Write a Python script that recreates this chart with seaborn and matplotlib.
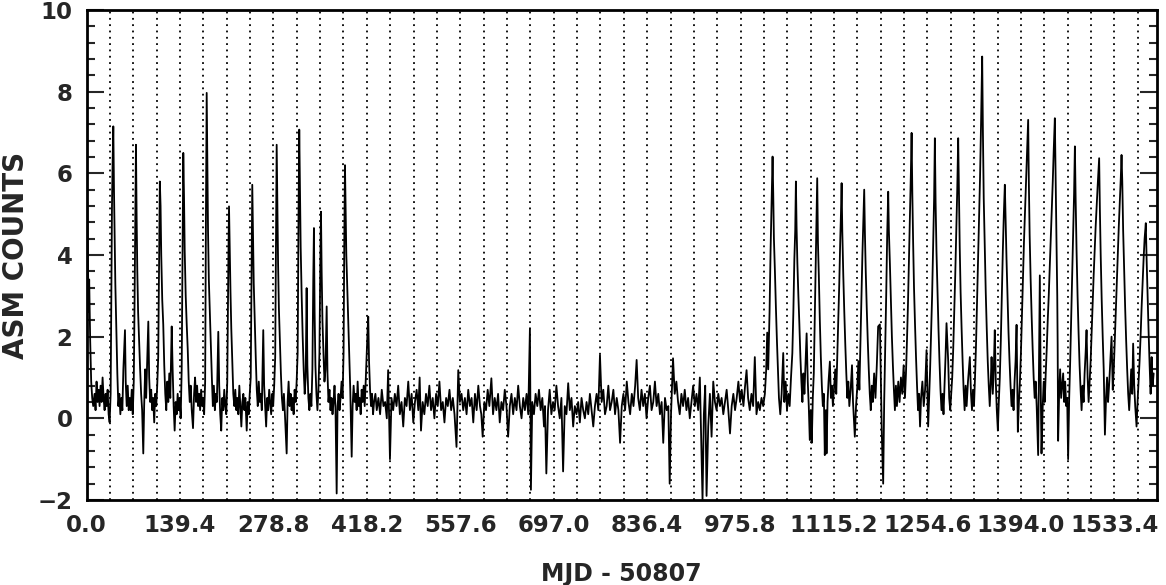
import matplotlib
matplotlib.use("Agg")
import matplotlib.pyplot as plt
import seaborn as sns
import pandas as pd
from matplotlib.ticker import MultipleLocator, FormatStrFormatter

# light curve: (MJD - 50807, ASM counts)
active_early = [
    (0, 3.0), (1, 5.3), (2, 4.2), (3, 2.6), (4, 3.4), (5.5, 1.9), (7, 0.9), (8.5, 0.5), (10, 0.3), (12, 0.6),
    (13.5, 0.2), (15, 0.9), (16.5, 0.4), (18, 0.7), (19.5, 0.3), (21, 0.8), (22.5, 0.4), (24, 1.0), (25.5, 0.5), (27, 0.2),
    (28.5, 0.6), (30, 0.3), (31.5, 0.7), (33, 0.1), (34.5, -0.1), (36, 0.6), (37, 2.8), (38, 5.2), (39, 6.3), (40, 7.15),
    (41, 5.6), (42, 4.4), (43, 3.3), (44.5, 2.2), (46, 1.1), (47.5, 0.3), (49, 0.6), (50.5, 0.1), (52, 0.5), (53.5, 0.2),
    (55, 1.2), (57.4, 2.16), (58.5, 0.9), (60, 0.3), (61.5, 0.8), (63, 0.2), (64.5, 0.5), (66, 0.2), (67.5, 0.7), (69, 0.1),
    (70.5, 0.9), (71.5, 2.5), (72.8, 5.0), (73.8, 6.7), (74.8, 4.9), (75.8, 3.6), (77, 2.6), (78.5, 1.9), (80, 1.2), (81.5, 0.6),
    (83, 0.2), (84.7, -0.86), (86, 0.3), (87.5, 1.2), (89, 0.5), (90.5, 1.4), (92.2, 2.37), (93.5, 1.0), (95, 0.4), (96.5, 0.7),
    (98, 0.2), (99.5, 0.5), (101, -0.1), (102.5, 0.6), (104, 0.3), (105.5, 0.8), (107, 1.5), (108.3, 4.0), (109.4, 5.8), (110.5, 5.2),
    (111.5, 4.0), (113, 2.9), (114.5, 2.3), (116, 1.3), (117.5, 0.6), (119, 0.2), (120.5, 0.9), (122, 0.4), (123.5, 1.1), (125, 0.5),
    (127.1, 2.25), (128.5, 1.2), (130, 0.3), (131.5, -0.3), (133, 0.4), (134.5, 0.1), (136, 0.6), (137.5, 0.2), (139, 0.5), (140.5, 0.0),
    (142, 1.2), (143.3, 4.2), (144.4, 6.5), (145.5, 5.4), (146.5, 4.1), (148, 3.0), (149.5, 2.3), (151, 1.7), (152.5, 0.9), (154, 0.4),
    (155.5, 0.8), (157, 0.2), (158.9, -0.24), (160.5, 0.6), (162, 1.0), (163.5, 0.4), (165, 0.8), (166.5, 0.3), (168, 0.6), (169.5, 0.2),
    (171, 0.7), (172.5, 0.3), (174, 0.5), (175.5, 0.1), (177, 0.9), (178.2, 5.0), (179.3, 7.97), (180.3, 6.2), (181.3, 4.6), (182.5, 3.4),
    (184, 2.6), (185.5, 1.8), (187, 1.0), (188.5, 0.3), (190, 0.8), (191.5, 0.2), (193, 0.6), (194.5, 0.4), (196.6, 2.12), (198, 0.8),
    (199.5, 0.1), (201, -0.3), (202.5, 0.5), (204, 0.2), (205.5, 0.7), (207, 0.3), (208.5, 0.1), (210, 0.9), (211.5, 3.6), (212.6, 5.19),
    (213.6, 4.2), (214.8, 3.1), (216, 2.2), (217.5, 1.4), (219, 0.6), (220.5, 0.3), (222, 0.7), (223.5, 0.2), (225, 0.5), (226.5, 0.1),
    (228, 0.8), (229.5, 0.3), (231, -0.2), (232.5, 0.4), (234, 0.6), (235.5, 0.2), (237, 0.5), (239, -0.3), (240.5, 0.4), (242, 0.1),
    (243.5, 0.6), (245, 1.0), (246.2, 3.5), (247.3, 5.72), (248.3, 4.6), (249.5, 3.3), (251, 2.4), (252.5, 1.5), (254, 0.7), (255.5, 0.3),
    (257, 0.9), (258.5, 0.4), (260, 0.6), (261.5, 0.2), (263.7, 2.16), (265, 0.8), (266.5, 0.3), (268, -0.2), (269.5, 0.5), (271, 0.2),
    (272.5, 0.7), (274, 0.4), (275.5, 0.1), (277, 0.6), (278.5, 0.3), (280, 0.8), (281.5, 1.5), (282.7, 4.5), (283.7, 6.7), (284.7, 5.3),
    (285.8, 3.8), (287, 2.7), (288.5, 1.9), (290, 1.1), (291.5, 0.5), (293, 0.2), (294.5, 0.6), (296, 0.1), (298.6, -0.86), (300, 0.4),
    (301.5, 0.9), (303, 0.3), (304.5, 0.6), (306, 0.2), (307.5, 0.5), (309, 0.1), (310.5, 0.7), (312, 0.4), (313.5, 0.9), (315, 1.6),
    (316.3, 4.9), (317.4, 7.07), (318.4, 5.8), (319.5, 4.2), (321, 3.0), (322.5, 2.0), (324, 1.2), (325.5, 0.6), (327, 1.0), (328.4, 3.19),
    (329.5, 1.3), (331, 0.5), (332.5, 0.2), (334, 0.6), (335.5, 0.3), (337, 1.2), (338.3, 3.4), (339.3, 4.66), (340.3, 2.6), (341.5, 1.3),
    (343, 0.6), (344.5, 0.2), (346, 0.7), (347.5, 1.6), (348.8, 3.8), (349.8, 5.06), (350.8, 3.6), (352, 2.4), (353.5, 1.6), (355, 0.9),
    (356.5, 1.2), (358.3, 2.74), (359.5, 1.1), (361, 0.4), (362.5, 0.7), (364, 0.2), (365.5, 0.5), (367, 0.1), (368.5, 0.4), (370, 0.8),
    (371.5, 0.2), (373.2, -1.84), (374.5, 0.3), (376, 0.6), (377.5, 0.2), (379, 0.5), (380.5, 0.9), (382, 0.5), (383.5, 1.6), (384.6, 4.4),
    (385.6, 6.2), (386.6, 5.1), (387.6, 4.0), (389, 3.2), (390.5, 2.3), (392, 1.4), (393.5, 0.7), (395.6, -0.94), (397, 0.3), (398.5, 0.8),
    (400, 0.4), (401.5, 0.6), (403, 0.2), (404.5, 0.9), (406, 0.3), (407.5, 0.5), (409, 0.1), (410.5, 0.7), (412, 0.4), (413.5, 0.8),
    (415, 0.3), (416.5, 0.9), (418, 1.6), (419.2, 2.1), (420.3, 2.49), (421.5, 1.4), (423, 0.7), (424.5, 0.3), (426, 0.6), (427.5, 0.1),
    (429, 0.4),
]

quiet = [
    (431, 0.6), (433, 0.2), (435.5, 0.5), (438, 0.1), (440.5, 0.7), (443, 0.3), (445.5, 0.4), (448, 0.0), (450, 1.18), (452.7, -1.0),
    (455, 0.5), (457.5, 0.2), (460, 0.6), (462.5, 0.3), (465, 0.8), (467.5, 0.1), (470, 0.4), (472.5, -0.2), (475, 0.5), (477.5, 0.3),
    (480, 0.9), (482.5, 0.2), (485, 0.6), (487.5, -0.1), (490, 0.4), (492.5, 0.7), (495, 0.2), (497, 1.0), (499, -0.3), (501.5, 0.4),
    (504, 0.1), (506.5, 0.6), (509, 0.3), (511.5, 0.8), (514, 0.2), (516.5, 0.5), (519, 0.0), (521.5, 0.6), (524, 0.3), (526.5, 0.9),
    (529, 0.2), (531.5, 0.4), (534, -0.1), (536.5, 0.5), (539, 0.3), (541.5, 0.7), (544, 0.2), (546.5, 0.5), (549, 0.1), (552, -0.7),
    (554.6, 1.18), (557, 0.4), (559.5, 0.6), (562, 0.2), (564.5, 0.5), (567, 0.1), (569.5, 0.7), (572, 0.3), (574.5, 0.5), (577, -0.1),
    (579.5, 0.6), (582, 0.2), (584.5, 0.8), (587, 0.3), (589, 0.1), (591, -0.45), (593.5, 0.4), (596, 0.2), (598.5, 0.7), (601, 0.3),
    (604, 0.98), (606.5, 0.1), (609, 0.5), (611.5, 0.2), (614, 0.6), (616.5, -0.1), (619, 0.4), (621.5, 0.2), (624, 0.7), (626.5, 0.3),
    (629, -0.45), (631.5, 0.3), (634, 0.6), (636.5, 0.1), (639, 0.5), (641.5, 0.2), (644, 0.8), (646.5, 0.3), (649, 0.0), (651.5, 0.5),
    (654, 0.2), (656.5, 0.6), (659, 0.1), (661.5, 2.2), (663, -1.75), (665, 0.4), (667.5, 0.1), (670, 0.6), (672.5, 0.3), (675, 0.7),
    (677.5, 0.2), (680, 0.5), (682.5, -0.2), (684, 0.3), (686, -1.35), (688.5, 0.2), (691, 0.7), (693.5, 0.1), (696, 0.4), (698.5, 0.2),
    (701, 0.8), (703.5, 0.3), (706, 0.0), (708.5, 0.5), (711, -1.3), (713.5, 0.3), (716, 0.1), (718.6, 0.86), (721, 0.2), (723.5, 0.5),
    (726, -0.2), (728.5, 0.3), (731, 0.1), (733.5, 0.4), (736, -0.1), (738.5, 0.5), (741, 0.2), (743.5, 0.0), (746, 0.4), (748.5, 0.1),
    (751, 0.6), (753.5, 0.2), (756, -0.2), (758.5, 0.3), (761, 0.6), (763.5, 0.2), (766, 1.55), (768.5, 0.4), (771, 0.7), (773.5, 0.1),
    (776, 0.3), (778.5, 0.8), (781, 0.2), (783.5, 0.4), (786, 0.7), (788.5, 0.1), (791, 0.5), (793.5, 0.2), (796, -0.6), (798.5, 0.3),
    (801, 0.6), (803.5, 0.2), (806, 0.9), (808.5, 0.4), (811, 0.1), (813.5, 0.6), (816, 0.3), (818.5, 0.8), (820.7, 1.43), (823, 0.5),
    (825.5, 0.2), (828, 0.7), (830.5, 0.3), (833, 0.6), (835.5, 0.0), (838, 0.5), (840.5, 0.8), (843, 0.2), (845.5, 0.4), (848, 0.9),
    (850.5, 0.3), (853, 0.6), (855.5, 0.1), (858, 0.4), (860.4, -0.6), (863, 0.5), (865.5, 0.2), (868, 0.3), (870, -1.6), (872, 0.1),
    (875, 1.47), (877.5, 0.6), (880, 0.9), (882.5, 0.4), (885, 0.1), (887.5, 0.6), (890, 0.3), (892.5, 0.7), (895, 0.2), (897.5, 0.5),
    (900, 0.0), (902.5, 0.4), (905, 0.8), (907.5, 0.3), (910, 0.6), (912.5, 0.2), (915, 1.0), (917, -0.5), (919, -2.0), (921, 0.1),
    (923, 0.8), (925, -1.9), (927.5, -0.2), (930, 0.6), (932.5, -0.45), (935, 0.9), (937.5, 0.4), (940, 0.2), (942.5, 0.6), (945, 0.3),
    (947.5, 0.5), (950, 0.1), (952.5, 0.4), (955, 0.7), (957.5, 0.2), (960, -0.37), (962.5, 0.3), (965, 0.6), (967.5, 0.2), (970, 0.5),
    (972.5, 0.9), (975, 0.4), (977.5, 0.7), (980, 0.3), (982.5, 0.8), (984.7, 1.18), (987, 0.5), (989.5, 0.2), (992, 0.6), (994.5, 0.3),
    (997, 1.5), (999.5, 0.1), (1002, 0.4), (1004.5, 0.2), (1007, 0.5), (1009.5, 0.3), (1012, 0.6), (1014, 1.2),
]

active_late = [
    (1015.5, 2.1), (1017, 1.2), (1019, 2.6), (1020.5, 4.1), (1022, 5.3), (1023.5, 6.41), (1024.5, 5.5), (1025.5, 4.4), (1027, 3.6), (1028.5, 2.7),
    (1030, 1.9), (1031.5, 1.2), (1033, 0.5), (1035, 0.1), (1037, 0.6), (1039.4, 1.6), (1041, 0.4), (1043, 0.9), (1045, 0.2), (1047, 0.6),
    (1049, 0.3), (1051, 1.0), (1053, 1.6), (1054.5, 2.6), (1056, 3.9), (1057.3, 4.6), (1058.3, 5.8), (1059.3, 4.7), (1060.5, 3.8), (1062, 3.0),
    (1063.5, 2.3), (1065, 1.5), (1066.5, 0.9), (1068, 0.4), (1069.5, 1.1), (1071, 0.6), (1072.5, 1.3), (1074.3, 2.08), (1076, 0.9), (1077.5, 0.3),
    (1079, -0.53), (1080.5, 0.2), (1082, -0.6), (1083.5, 0.5), (1085, 1.1), (1086.5, 2.5), (1088, 3.8), (1089, 4.9), (1090.1, 5.88), (1091.2, 4.3),
    (1092.5, 3.5), (1094, 2.4), (1095.5, 1.5), (1097, 0.8), (1098.5, 0.3), (1100, 0.6), (1101.4, -0.9), (1103, 0.2), (1104, -0.86), (1105.5, 0.4),
    (1107, 0.9), (1109, 1.39), (1110.5, 0.5), (1112, 0.8), (1113.5, 0.3), (1115, 0.7), (1117, 1.2), (1118.5, 0.6), (1120, 1.5), (1121.5, 2.4),
    (1123, 3.3), (1124.5, 4.4), (1125.5, 5.0), (1126.5, 5.76), (1127.5, 4.6), (1129, 3.5), (1130.5, 2.6), (1132, 1.8), (1133.5, 1.1), (1135, 0.5),
    (1136.5, 0.9), (1138, 0.3), (1140, 0.7), (1142, 1.3), (1143.5, 0.4), (1146.2, -0.45), (1148, 0.3), (1150, 0.8), (1151.5, 1.4), (1153, 0.7),
    (1154.5, 1.8), (1156, 2.9), (1157.5, 4.0), (1159, 4.9), (1160.2, 5.6), (1161.3, 4.5), (1162.5, 3.6), (1164, 2.7), (1165.5, 1.9), (1167, 1.2),
    (1168.5, 0.6), (1170, 0.2), (1171.5, 0.8), (1173, 0.4), (1175, 1.1), (1177, 0.5), (1179, 1.3), (1181, 2.25), (1183.6, 2.3), (1185, 1.0),
    (1186.5, -0.4), (1188.5, -1.6), (1190, 0.4), (1191.5, 1.7), (1193, 3.0), (1194.5, 4.5), (1196, 5.55), (1197, 4.6), (1198.5, 3.8), (1200, 2.9),
    (1201.5, 2.0), (1203, 1.3), (1204.5, 0.7), (1206, 0.2), (1207.5, 0.8), (1209, 0.3), (1211, 0.9), (1213, 0.4), (1215, 1.0), (1217, 0.6),
    (1219, 1.3), (1221, 0.5), (1222.5, 1.1), (1224, 1.9), (1225.5, 2.8), (1227, 3.9), (1228.5, 4.9), (1229.8, 6.0), (1230.9, 6.99), (1232, 5.5),
    (1233.2, 4.3), (1234.5, 3.2), (1236, 2.3), (1237.5, 1.5), (1239, 0.8), (1240.5, 0.2), (1242, 0.6), (1243.5, -0.2), (1245, 0.5), (1247, 0.9),
    (1249, 0.3), (1251, 0.7), (1253.2, 1.67), (1255.6, -0.2), (1257, 0.5), (1258.5, 1.2), (1260, 2.1), (1261.5, 3.0), (1263, 4.2), (1264.5, 5.4),
    (1265.6, 6.86), (1266.7, 5.3), (1268, 4.1), (1269.5, 3.1), (1271, 2.2), (1272.5, 1.4), (1274, 0.7), (1275.5, 0.2), (1277, 0.6), (1278.5, 0.1),
    (1280, 0.8), (1281.5, 1.5), (1283, 2.33), (1285.5, 1.4), (1287, 0.5), (1288.5, 0.2), (1290, 0.6), (1291.5, 1.0), (1293, 1.7), (1294.5, 2.6),
    (1296, 3.5), (1297.5, 4.6), (1299, 5.6), (1300.4, 6.86), (1301.5, 5.5), (1302.7, 4.2), (1304, 3.1), (1305.5, 2.2), (1307, 1.4), (1308.5, 0.7),
    (1310, 0.2), (1311.5, 0.8), (1313, 0.3), (1315, 0.9), (1317.8, 1.5), (1319.5, 0.6), (1321, 0.2), (1322.5, 0.7), (1324, 0.3), (1325.5, 1.0),
    (1327, 1.8), (1328.5, 2.8), (1330, 3.9), (1331.5, 4.7), (1333, 5.9), (1334.5, 7.2), (1336.2, 8.86), (1337.3, 7.0), (1338.5, 5.4), (1340, 4.2),
    (1341.5, 3.1), (1343, 2.2), (1344.5, 1.4), (1346, 0.8), (1347.5, 0.3), (1349, 0.9), (1350.2, 1.5), (1352, 0.6), (1353.5, 1.2), (1355, 2.16),
    (1356.5, 0.9), (1358, 0.2), (1359.6, -0.3), (1361, 0.4), (1362.5, 1.0), (1364, 1.9), (1365.5, 3.0), (1367, 4.1), (1368.5, 5.0), (1370, 5.72),
    (1371.2, 4.8), (1372.5, 3.9), (1374, 3.0), (1375.5, 2.1), (1377, 1.4), (1378.5, 0.8), (1380, 0.3), (1381.5, 0.7), (1383, 0.2), (1384.5, 0.9),
    (1386, 1.4), (1387.5, 2.29), (1389.4, -0.33), (1391, 0.4), (1392.5, 0.9), (1394, 1.6), (1395.5, 2.5), (1397, 3.4), (1398.5, 4.3), (1400, 5.0),
    (1401.5, 5.7), (1403, 6.4), (1404.8, 7.31), (1405.8, 5.8), (1407, 4.5), (1408.5, 3.4), (1410, 2.5), (1411.5, 1.7), (1413, 1.0), (1414.5, 0.5),
    (1416, 0.9), (1417.5, 0.3), (1419.7, -0.9), (1421, 1.5), (1422.2, 3.5), (1423.5, 0.8), (1424.7, -0.86), (1426.5, 0.3), (1428, 0.9), (1429.5, 0.4),
    (1431, 1.1), (1432.5, 1.7), (1434, 2.4), (1435.5, 3.0), (1437, 3.7), (1438.5, 4.4), (1440, 5.1), (1441.5, 5.8), (1443, 6.6), (1444.6, 7.35),
    (1445.7, 5.9), (1447, 4.4), (1448.2, 3.0), (1448.8, 1.8), (1449.5, -0.55), (1451, 0.6), (1452.5, 1.2), (1454, 0.5), (1455.5, 0.8), (1457, 1.1),
    (1458.5, 0.4), (1460, 0.9), (1461.5, 0.3), (1463, 0.5), (1464.4, -1.0), (1466, 0.5), (1467.5, 1.4), (1469, 2.5), (1470.5, 3.6), (1472, 4.6),
    (1473.3, 5.5), (1474.5, 6.66), (1475.6, 5.4), (1477, 4.1), (1478.5, 3.0), (1480, 2.1), (1481.5, 1.3), (1483, 0.7), (1484.5, 0.2), (1486, 0.8),
    (1487.5, 0.4), (1489, 1.1), (1490.5, 1.6), (1491.9, 2.16), (1493.5, 1.0), (1495, 0.4), (1496.5, 0.9), (1498, 1.4), (1499.5, 2.1), (1501, 2.8),
    (1502.5, 3.5), (1504, 4.1), (1505.5, 4.7), (1507, 5.2), (1508.5, 5.7), (1510.7, 6.37), (1511.8, 5.1), (1513, 4.0), (1514.5, 2.9), (1516, 2.0),
    (1517.5, 1.2), (1519.3, -0.4), (1521, 0.5), (1522.5, 1.0), (1524, 0.4), (1525.5, 0.8), (1527, 1.3), (1529.2, 2.0), (1531, 0.7), (1532.5, 1.2),
    (1534, 1.9), (1535.5, 2.6), (1537, 3.3), (1538.5, 4.0), (1540, 4.7), (1541.5, 5.3), (1543, 5.9), (1544.1, 6.45), (1545.2, 5.8), (1546.5, 4.6),
    (1548, 3.6), (1549.5, 2.7), (1551, 1.9), (1552.5, 1.2), (1554, 0.6), (1555.5, 0.2), (1557, 0.7), (1558.5, 1.2), (1560, 0.6), (1561.4, 1.83),
    (1563, 0.8), (1564.5, 0.3), (1566.5, -0.2), (1568, 0.4), (1569.5, 0.9), (1571, 1.4), (1572.5, 2.0), (1574, 2.7), (1575.5, 3.3), (1577, 3.9),
    (1578.5, 4.4), (1580.3, 4.78), (1581.5, 3.9), (1583, 3.0), (1584.5, 2.1), (1586, 1.3), (1587.5, 0.6), (1589, 1.5), (1590.5, 0.8), (1592, 1.1),
]

x_tick_step = 139.4
x_grid_step = 34.85

df = pd.DataFrame(active_early + quiet + active_late, columns=["t", "counts"])

sns.set_style("ticks")
plt.rcParams['font.family'] = ['DejaVu Sans']
plt.rcParams['font.weight'] = 'bold'

fig = plt.figure(figsize=(11.66, 5.85), dpi=100)
ax = fig.add_axes([86.5 / 1166, 85 / 585, 1070.5 / 1166, 490 / 585])

sns.lineplot(data=df, x="t", y="counts", color="black", linewidth=1.3,
             sort=False, estimator=None, ax=ax)

ax.set_xlim(0, 1597)
ax.set_ylim(-2, 10)

ax.xaxis.set_major_locator(MultipleLocator(x_tick_step))
ax.xaxis.set_minor_locator(MultipleLocator(x_grid_step))
ax.xaxis.set_major_formatter(FormatStrFormatter('%.1f'))
ax.yaxis.set_major_locator(MultipleLocator(2))
ax.yaxis.set_minor_locator(MultipleLocator(0.4))

ax.grid(which='both', axis='x', color='black', linestyle=(0, (1, 2.5)), linewidth=1.3)
ax.grid(False, axis='y', which='both')

ax.tick_params(axis='x', which='both', length=0, pad=10, labelsize=16.5)
ax.tick_params(axis='y', which='both', direction='in', left=True, right=True,
               width=1.5, labelsize=16.5, pad=10)
ax.tick_params(axis='y', which='major', length=12)
ax.tick_params(axis='y', which='minor', length=6)

for sp in ax.spines.values():
    sp.set_linewidth(2)
    sp.set_color('black')

ax.set_xlabel("MJD - 50807", fontsize=17, fontweight='bold')
ax.set_ylabel("ASM COUNTS", fontsize=20, fontweight='bold')
ax.xaxis.set_label_coords(0.5, -0.127)
ax.yaxis.set_label_coords(-0.053, 0.5)

plt.savefig("out.png", dpi=100)
